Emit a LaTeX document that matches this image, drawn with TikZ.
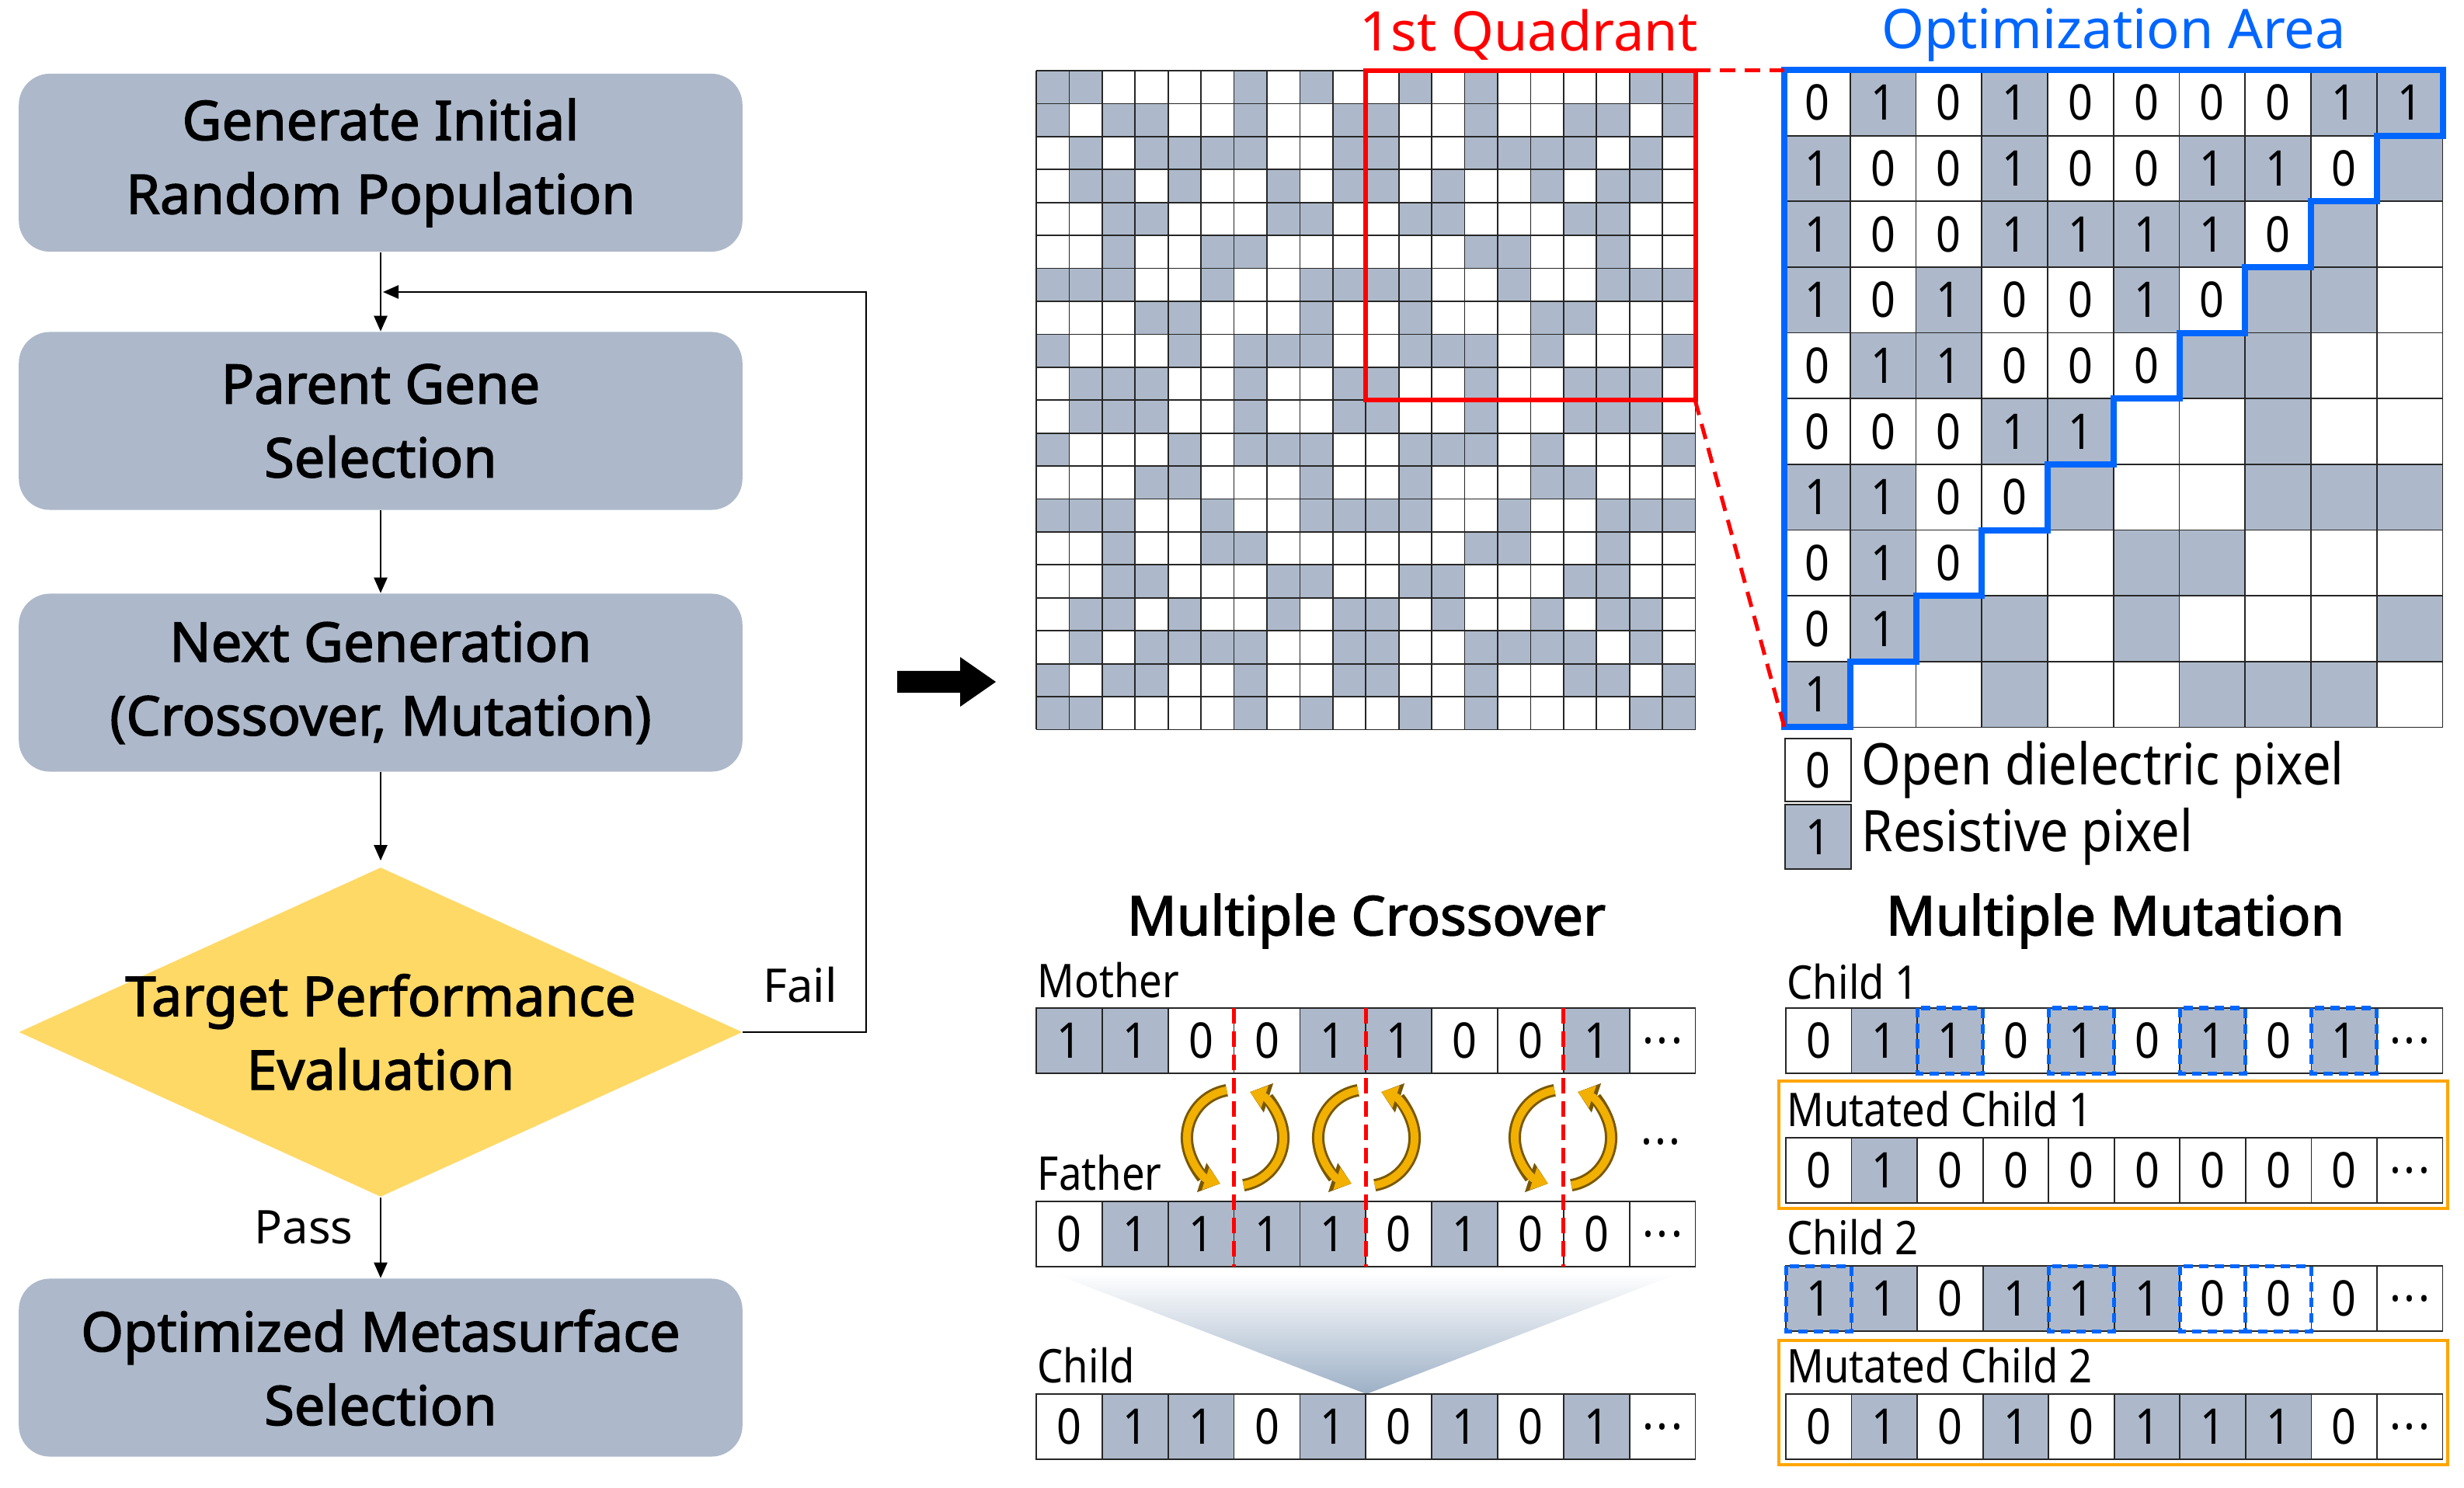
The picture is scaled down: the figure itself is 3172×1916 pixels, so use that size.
\documentclass[tikz,border=0pt]{standalone}
\usepackage{fontspec}
\setmainfont{Noto Sans}
\newfontfamily\cond[FakeStretch=0.88]{Noto Sans}
\newfontfamily\heavy[FakeBold=2]{Noto Sans}
\usetikzlibrary{arrows.meta,shapes.geometric}
\definecolor{cellgray}{HTML}{ADB9CA}
\definecolor{boxgray}{HTML}{ADB9CA}
\definecolor{diamy}{HTML}{FFD966}
\definecolor{qblue}{HTML}{0066FF}
\definecolor{qred}{HTML}{FF0000}
\definecolor{qorange}{HTML}{FFA500}
\definecolor{swapfill}{HTML}{F2B000}
\definecolor{swapedge}{HTML}{7A5800}
\definecolor{gradbot}{HTML}{9DB0C6}
\tikzset{
 flowbox/.style={rounded corners=0.4cm, fill=boxgray, minimum width=9.31cm, minimum height=2.29cm, align=center, inner sep=0pt, font=\heavy\fontsize{20}{27}\selectfont},
 decision/.style={diamond, aspect=2.2, fill=diamy, minimum width=9.31cm, minimum height=4.24cm, inner sep=0pt},
 dectext/.style={align=center, inner sep=0pt, font=\heavy\fontsize{20}{27}\selectfont},
 flowarrow/.style={line width=0.7pt, -{Triangle[length=0.2cm,width=0.17cm]}},
 flowlbl/.style={font=\fontsize{17}{17}\selectfont, inner sep=0pt},
 gridline/.style={line width=0.5pt, draw=black!85},
 digit/.style={font=\cond\fontsize{18}{18}\selectfont, inner sep=0pt},
 lbl/.style={font=\cond\fontsize{17}{17}\selectfont, anchor=west, inner sep=0pt},
 legtext/.style={font=\cond\fontsize{21}{21}\selectfont, anchor=west, inner sep=0pt},
 titletext/.style={font=\heavy\fontsize{20}{20}\selectfont, inner sep=0pt},
 plaintitle/.style={font=\fontsize{20}{20}\selectfont, inner sep=0pt},
 mutbox/.style={draw=qblue, dashed, dash pattern=on 0.12cm off 0.08cm, line width=0.05cm},
 swapedgeline/.style={draw=swapedge, line width=0.16cm, -{Triangle[length=0.25cm,width=0.38cm]}},
 swapfillline/.style={draw=swapfill, line width=0.1cm, -{Triangle[length=0.2cm,width=0.29cm]}, swapfill},
}
\def\Qmat{{0,1,0,1,0,0,0,0,1,1},{1,0,0,1,0,0,1,1,0,1},{1,0,0,1,1,1,1,0,1,0},{1,0,1,0,0,1,0,1,1,0},{0,1,1,0,0,0,1,1,0,0},{0,0,0,1,1,0,0,1,0,0},{1,1,0,0,1,0,0,1,1,1},{0,1,0,0,0,1,1,0,0,0},{0,1,1,1,0,1,0,0,0,1},{1,0,0,1,0,0,1,1,1,0}}
\newcommand\generow[4]{%
 \begin{scope}[shift={#1}, x=#2, y=-0.84cm]
  \foreach \v [count=\i from 0] in {#3} {
    \ifnum\v=1 \def\fc{cellgray}\else\def\fc{white}\fi
    \draw[gridline, fill=\fc] (\i,0) rectangle (\i+1,1);
    \node[digit] (#4\i) at (\i+0.5,0.5) {\v};
  }
  \draw[gridline] (9,0) rectangle (10,1);
  \node[digit] (#4dots) at (9.5,0.5) {\vphantom{0}\textperiodcentered\kern1pt\textperiodcentered\kern1pt\textperiodcentered};
 \end{scope}}
\newcommand\markcells[3]{%
 \begin{scope}[shift={#1}, x=#2, y=-0.84cm]
  \foreach \m in {#3} { \draw[mutbox] (\m,0) rectangle (\m+1,1); }
 \end{scope}}
\begin{document}
\begin{tikzpicture}[x=0.01cm,y=-0.01cm]
\useasboundingbox (0,0) rectangle (3172,1916);
\fill[white] (0,0) rectangle (3172,1916);

% ---------- flowchart ----------
\node[flowbox] (b1) at (490,209.5) {Generate Initial\\Random Population};
\node[flowbox] (b2) at (490,542) {Parent Gene\\Selection};
\node[flowbox] (b3) at (490,879) {Next Generation\\(Crossover, Mutation)};
\node[decision] (dm) at (490,1329) {};
\node[dectext] (dmt) at (dm.center) {Target Performance\\Evaluation};
\node[flowbox] (b4) at (490,1761) {Optimized Metasurface\\Selection};
\draw[flowarrow] (b1.south) -- (b2.north);
\draw[flowarrow] (b2.south) -- (b3.north);
\draw[flowarrow, shorten >=0.08cm] (b3.south) -- (dm.north);
\draw[flowarrow] (dm.south) -- (b4.north);
\coordinate (fbc) at (1115,376);
\coordinate (fbe) at (493,376);
\draw[flowarrow] (dm.east) -| (fbc) -- (fbe);
\node[flowlbl] (fail) at (1030,1268) {Fail};
\node[flowlbl] (pass) at (391,1580) {Pass};

% ---------- block arrow ----------
\fill[black] (1155,864) -- (1236,864) -- (1236,846) -- (1282,878) -- (1236,910) -- (1236,892) -- (1155,892) -- cycle;

% ---------- big grid ----------
\begin{scope}[shift={(1334,91)}, x=0.424cm, y=-0.424cm]
 \foreach \rv [count=\r from 0] in \Qmat {
  \foreach \v [count=\c from 0] in \rv {
   \ifnum\v=1
    \fill[cellgray] (10+\c,\r) rectangle ++(1,1);
    \fill[cellgray] (9-\c,\r) rectangle ++(1,1);
    \fill[cellgray] (10+\c,19-\r) rectangle ++(1,1);
    \fill[cellgray] (9-\c,19-\r) rectangle ++(1,1);
   \fi
  }
 }
 \foreach \k in {0,...,20} {
  \draw[gridline] (\k,0) -- (\k,20);
  \draw[gridline] (0,\k) -- (20,\k);
 }
 \draw[qred, line width=0.06cm] (10,0) rectangle (20,10);
\end{scope}
\node[plaintitle, text=qred] (quadt) at (1968,45) {1st Quadrant};

% ---------- optimization area ----------
\begin{scope}[shift={(2297,90)}, x=0.847cm, y=-0.846cm]
 \foreach \rv [count=\r from 0] in \Qmat {
  \foreach \v [count=\c from 0] in \rv {
   \ifnum\v=1 \fill[cellgray] (\c,\r) rectangle ++(1,1); \fi
   \pgfmathtruncatemacro\s{\r+\c}
   \ifnum\s<10 \node[digit] (q\r-\c) at (\c+0.5,\r+0.5) {\v}; \fi
  }
 }
 \foreach \k in {0,...,10} {
  \draw[gridline] (\k,0) -- (\k,10);
  \draw[gridline] (0,\k) -- (10,\k);
 }
 \draw[qblue, line width=0.08cm, line join=miter] (0,0) -- (10,0) -- (10,1) -- (9,1) -- (9,2) -- (8,2) -- (8,3) -- (7,3) -- (7,4) -- (6,4) -- (6,5) -- (5,5) -- (5,6) -- (4,6) -- (4,7) -- (3,7) -- (3,8) -- (2,8) -- (2,9) -- (1,9) -- (1,10) -- (0,10) -- cycle;
\end{scope}
\node[plaintitle, text=qblue] (optt) at (2721,45) {Optimization Area};
\coordinate (qtr) at (2182,91);
\coordinate (qbr) at (2182,515);
\coordinate (otl) at (2297,91);
\coordinate (obl) at (2297,936);
\draw[qred, line width=0.05cm, dash pattern=on 0.2cm off 0.12cm] (qtr) -- (otl);
\draw[qred, line width=0.05cm, dash pattern=on 0.2cm off 0.12cm] (qbr) -- (obl);

% ---------- legend ----------
\draw[gridline] (2298,951) rectangle (2383,1032);
\node[digit] (l0) at (2340.5,991.5) {0};
\draw[gridline, fill=cellgray] (2298,1036) rectangle (2383,1119);
\node[digit] (l1) at (2340.5,1077.5) {1};
\node[legtext] (lt0) at (2396,991) {Open dielectric pixel};
\node[legtext] (lt1) at (2396,1077) {Resistive pixel};

% ---------- multiple crossover ----------
\node[titletext] (ct) at (1759,1186) {Multiple Crossover};
\node[lbl] (lm) at (1335,1262) {Mother};
\node[lbl] (lf) at (1335,1510) {Father};
\node[lbl] (lc) at (1335,1758) {Child};
\shade[top color=white, bottom color=gradbot] (1357,1640) -- (2160,1640) -- (1759,1795) -- cycle;
\generow{(1334,1298)}{0.848cm}{1,1,0,0,1,1,0,0,1}{m}
\generow{(1334,1547)}{0.848cm}{0,1,1,1,1,0,1,0,0}{f}
\generow{(1334,1795)}{0.848cm}{0,1,1,0,1,0,1,0,1}{c}
\foreach \xx/\nm in {1588/1,1758/2,2012/3} {
  \coordinate (cut\nm) at (\xx,1298);
  \coordinate (cutb\nm) at (\xx,1631);
  \draw[qred, line width=0.05cm, dash pattern=on 0.2cm off 0.1cm] (cut\nm) -- (cutb\nm);
}
\foreach \xx/\nm in {1590/1,1759/2,2012/3} {
  \coordinate (sw\nm) at (\xx,1465);
  \draw[swapedgeline] (sw\nm) ++(100:0.62cm) arc[start angle=100, end angle=252, radius=0.62cm];
  \draw[swapfillline] (sw\nm) ++(100:0.62cm) arc[start angle=100, end angle=252, radius=0.62cm];
  \draw[swapedgeline] (sw\nm) ++(-80:0.62cm) arc[start angle=-80, end angle=72, radius=0.62cm];
  \draw[swapfillline] (sw\nm) ++(-80:0.62cm) arc[start angle=-80, end angle=72, radius=0.62cm];
}
\node[digit] (swd) at (2138,1470) {\vphantom{0}\textperiodcentered\kern1pt\textperiodcentered\kern1pt\textperiodcentered};

% ---------- multiple mutation ----------
\node[titletext] (mt) at (2723,1186) {Multiple Mutation};
\draw[qorange, line width=0.04cm] (2290,1392) rectangle (3151,1556);
\draw[qorange, line width=0.04cm] (2290,1726) rectangle (3151,1886);
\node[lbl] (lc1) at (2300,1264) {Child 1};
\node[lbl] (lmc1) at (2300,1428) {Mutated Child 1};
\node[lbl] (lc2) at (2300,1593) {Child 2};
\node[lbl] (lmc2) at (2300,1758) {Mutated Child 2};
\generow{(2299,1298)}{0.845cm}{0,1,1,0,1,0,1,0,1}{ca}
\generow{(2299,1465)}{0.845cm}{0,1,0,0,0,0,0,0,0}{ma}
\generow{(2299,1630)}{0.845cm}{1,1,0,1,1,1,0,0,0}{cb}
\generow{(2299,1795)}{0.845cm}{0,1,0,1,0,1,1,1,0}{mb}
\markcells{(2299,1298)}{0.845cm}{2,4,6,8}
\markcells{(2299,1630)}{0.845cm}{0,4,6,7}
\end{tikzpicture}
\end{document}
